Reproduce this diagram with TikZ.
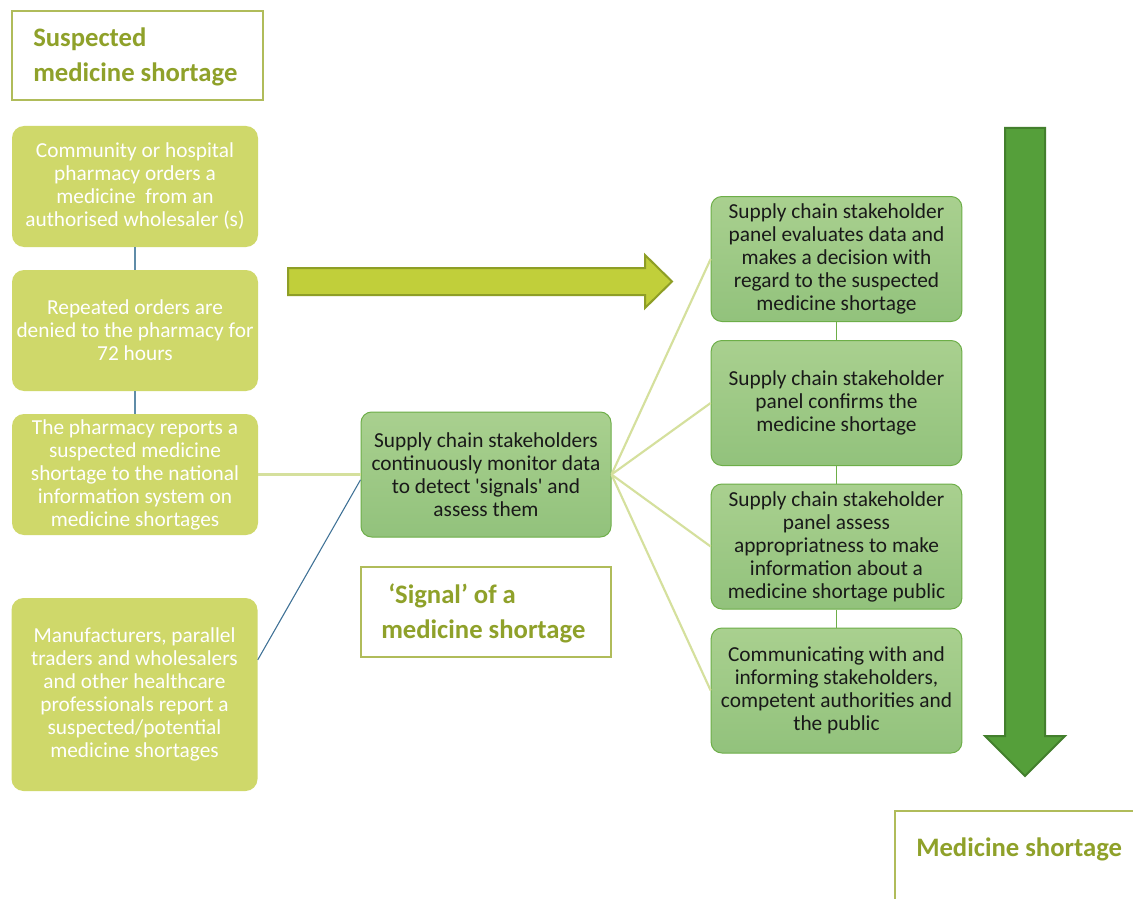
\documentclass[tikz,border=0pt]{standalone}
\usepackage{fontspec}
\setmainfont{Carlito}
\usetikzlibrary{calc}
\definecolor{olivetxt}{HTML}{8FA12A}
\definecolor{oliveborder}{HTML}{B0BC5A}
\definecolor{limefill}{HTML}{CFD86A}
\definecolor{gtop}{HTML}{A9D08F}
\definecolor{gbot}{HTML}{92C27C}
\definecolor{gborder}{HTML}{6DAE48}
\definecolor{arrowlime}{HTML}{C1CF3A}
\definecolor{arrowlimeb}{HTML}{8E9E26}
\definecolor{arrowgreen}{HTML}{559F3A}
\definecolor{arrowgreenb}{HTML}{437F2D}
\definecolor{steel}{HTML}{5F8CA8}
\definecolor{bluel}{HTML}{3E7196}
\definecolor{palel}{HTML}{D5E09D}
\begin{document}
\begin{tikzpicture}[x=0.75pt,y=-0.75pt,
 limebox/.style={fill=limefill, rounded corners=9pt, minimum width=184.5pt, minimum height=90.75pt, inner sep=0pt, align=center, text=white, font=\fontsize{16}{17.25}\selectfont},
 greenbox/.style={top color=gtop, bottom color=gbot, draw=gborder, line width=0.75pt, rounded corners=8pt, minimum width=188pt, minimum height=93.75pt, inner sep=0pt, align=center, text=black!90, font=\fontsize{16}{17.25}\selectfont},
 titletext/.style={text=olivetxt, font=\fontsize{20}{25.5}\selectfont\bfseries, inner sep=0pt},
 titlebox/.style={draw=oliveborder, line width=1pt},
 paleline/.style={draw=palel, line width=1.6pt},
 steelline/.style={draw=steel, line width=1pt},
 greenline/.style={draw=gborder, line width=0.8pt}
]
\fill[white] (0,0) rectangle (1133,899);
\useasboundingbox (0,0) rectangle (1133,899);

% titles
\draw[titlebox] (12,11) rectangle (263,100);
\node[titletext, anchor=base west] (t1a) at (33,47) {Suspected};
\node[titletext, anchor=base west] (t1b) at (33,82) {medicine shortage};

% left boxes
\node[limebox] (b1) at (135,186.5) {Community or hospital\\pharmacy orders a\\medicine~ from an\\authorised wholesaler (s)};
\node[limebox] (b2) at (135,330.5) {Repeated orders are\\denied to the pharmacy for\\72 hours};
\node[limebox] (b3) at (135,474.5) {The pharmacy reports a\\suspected medicine\\shortage to the national\\information system on\\medicine shortages};
\node[limebox, minimum height=144.75pt] (b4) at (134.5,694.5) {Manufacturers, parallel\\traders and wholesalers\\and other healthcare\\professionals report a\\suspected/potential\\medicine shortages};

% signal box
\node[greenbox, minimum width=187.5pt] (sig) at (486,474.5) {Supply chain stakeholders\\continuously monitor data\\to detect \textquotesingle signals\textquotesingle\ and\\assess them};
\draw[titlebox] (361,567) rectangle (611,657);
\node[titletext, anchor=base west] (t2a) at (388,603) {‘Signal’ of a};
\node[titletext, anchor=base west] (t2b) at (381,638) {medicine shortage};

% right boxes
\node[greenbox] (r1) at (836.5,259) {Supply chain stakeholder\\panel evaluates data and\\makes a decision with\\regard to the suspected\\medicine shortage};
\node[greenbox] (r2) at (836.5,403) {Supply chain stakeholder\\panel confirms the\\medicine shortage};
\node[greenbox] (r3) at (836.5,546.5) {Supply chain stakeholder\\panel assess\\appropriatness to make\\information about a\\medicine shortage public};
\node[greenbox] (r4) at (836.5,690.5) {Communicating with and\\informing stakeholders,\\competent authorities and\\the public};

% big arrows
\draw[fill=arrowlime, draw=arrowlimeb, line width=1.5pt, line join=miter]
  (288,268) -- (645,268) -- (645,255) -- (672,281.5) -- (645,308) -- (645,295) -- (288,295) -- cycle;
\draw[fill=arrowgreen, draw=arrowgreenb, line width=1.5pt, line join=miter]
  (1005,128) -- (1045,128) -- (1045,736) -- (1065,736) -- (1025,776) -- (985,736) -- (1005,736) -- cycle;

% bottom title
\draw[titlebox] (1133,811) -- (895,811) -- (895,899);
\node[titletext, anchor=base west] (t3) at (916,856) {Medicine shortage};

% connectors
\draw[steelline] (b1.south) -- (b2.north);
\draw[steelline] (b2.south) -- (b3.north);
\draw[paleline] (b3.east) -- (sig.west);
\draw[draw=bluel, line width=0.8pt] ([yshift=26pt]b4.east) -- ([yshift=-4pt]sig.west);
\draw[paleline] (sig.east) -- (r1.west);
\draw[paleline] (sig.east) -- (r2.west);
\draw[paleline] (sig.east) -- (r3.west);
\draw[paleline] (sig.east) -- (r4.west);
\draw[greenline] (r1.south) -- (r2.north);
\draw[greenline] (r2.south) -- (r3.north);
\draw[greenline] (r3.south) -- (r4.north);
\end{tikzpicture}
\end{document}
